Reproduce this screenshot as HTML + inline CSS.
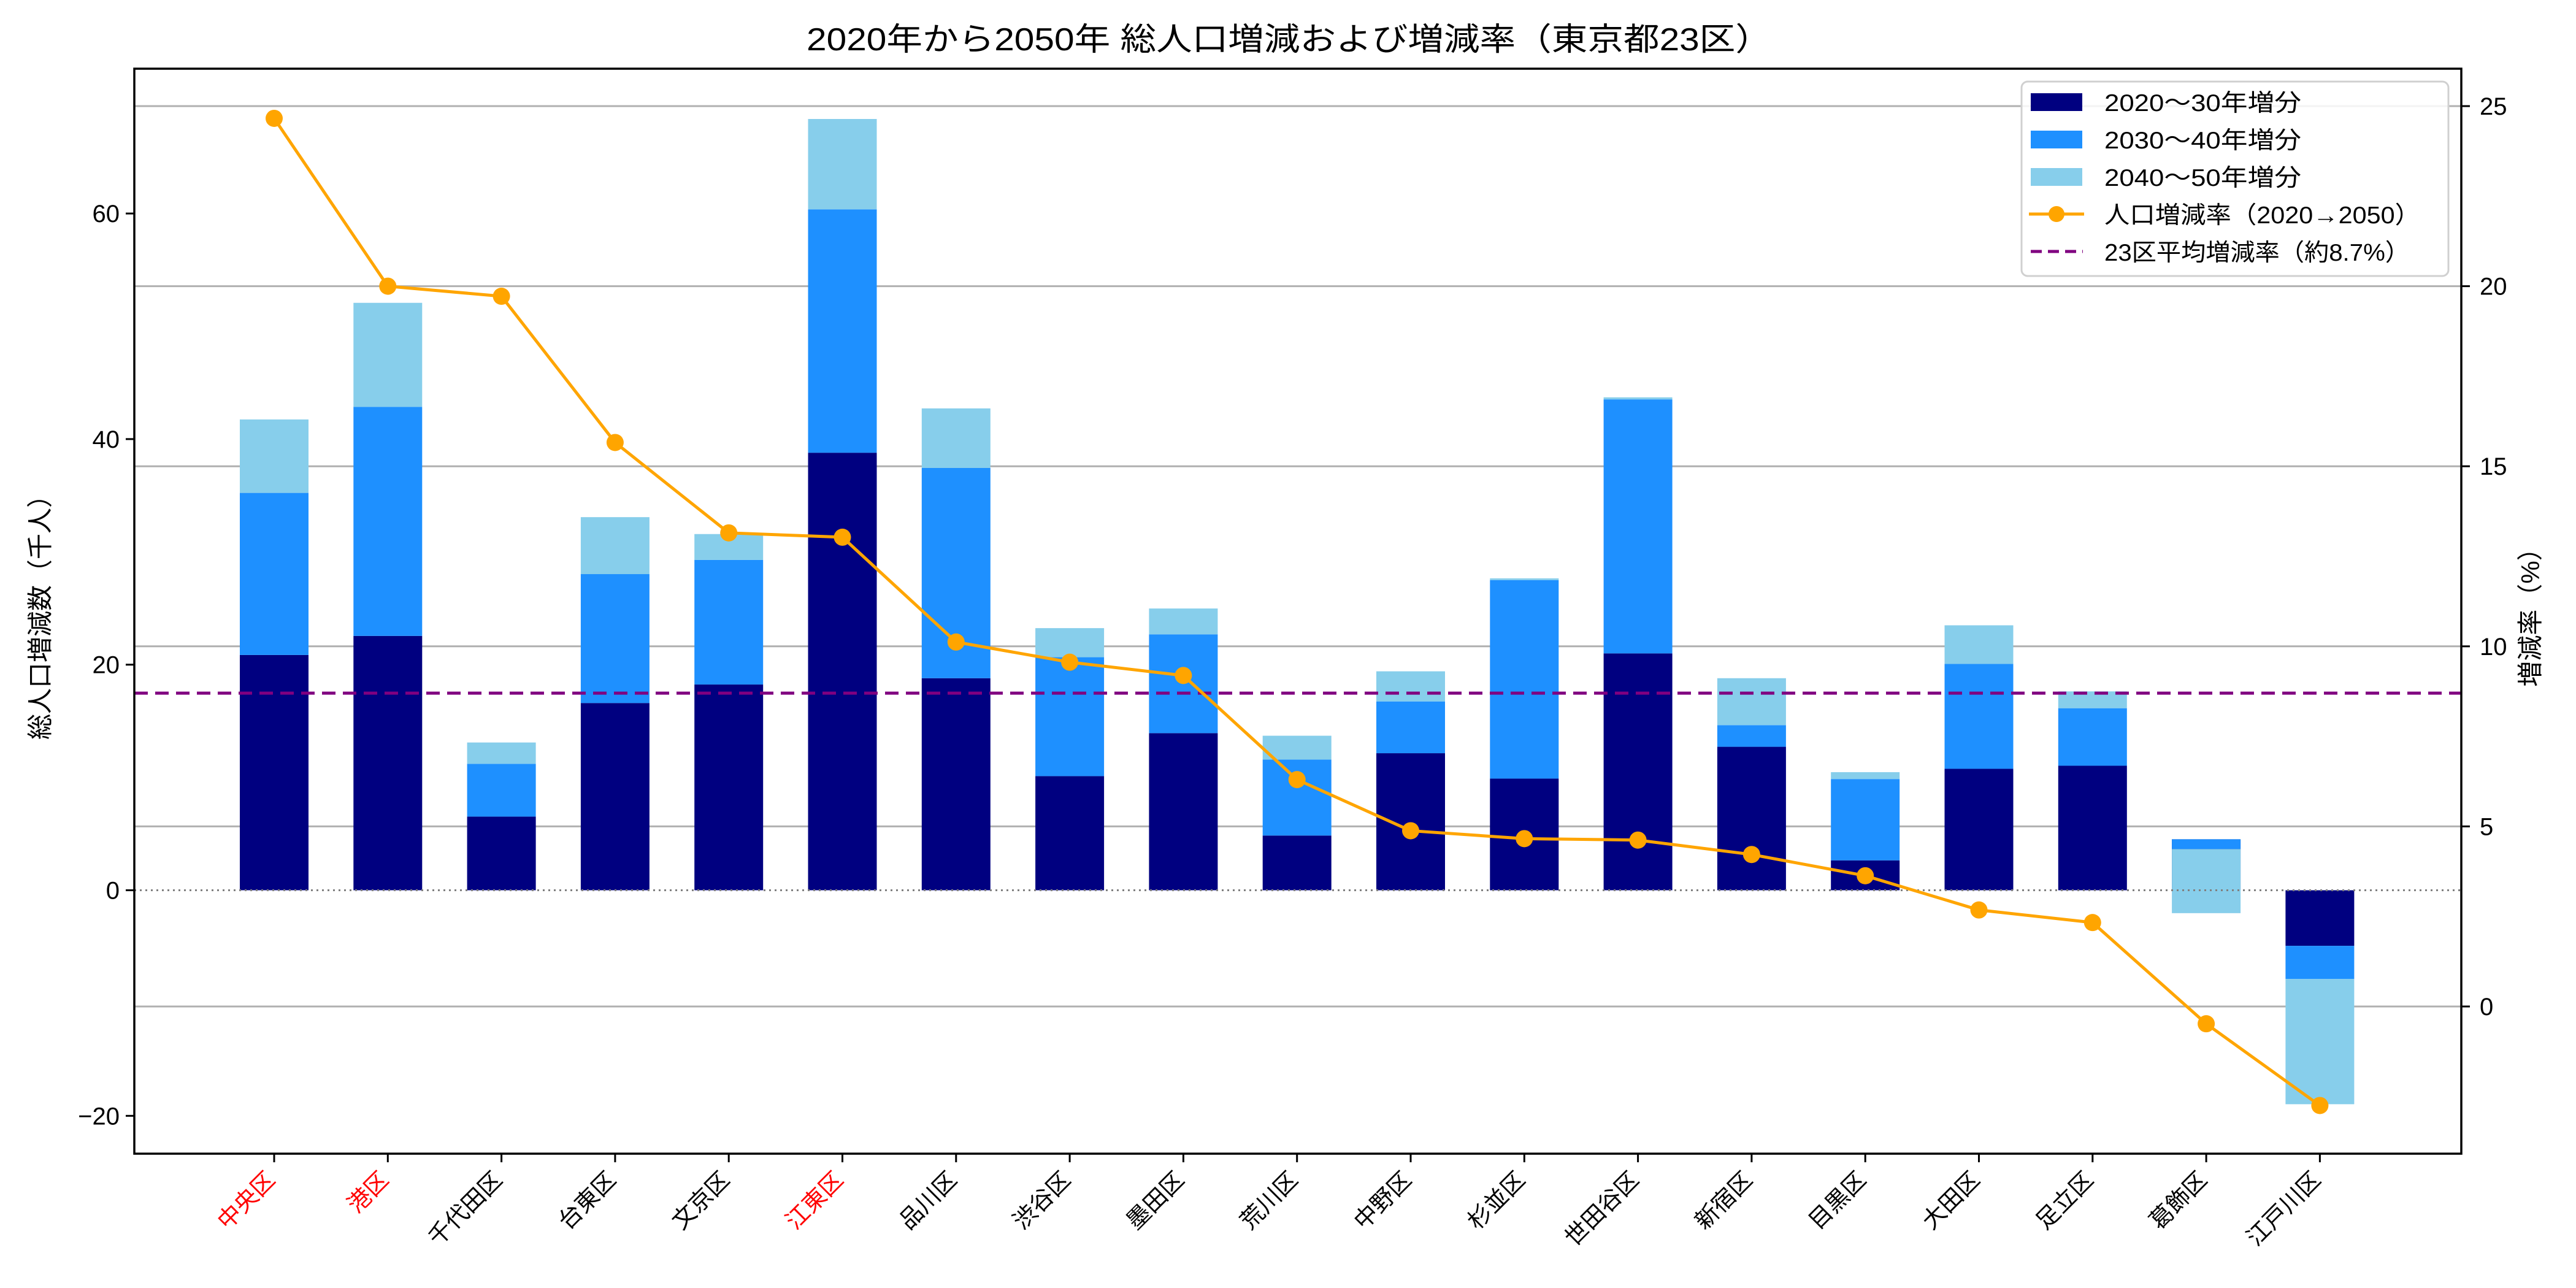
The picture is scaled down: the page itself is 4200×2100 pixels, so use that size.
<!DOCTYPE html>
<html><head><meta charset="utf-8">
<style>html,body{margin:0;padding:0;background:#fff}svg{display:block}text{font-family:"Liberation Sans","Noto Sans CJK JP",sans-serif}</style>
</head><body>
<svg id="chart" xmlns="http://www.w3.org/2000/svg" width="4200" height="2100" viewBox="0 0 4200 2100">
<rect width="4200" height="2100" fill="#fff"/>
<text x="1315" y="82" font-size="52" textLength="1573" lengthAdjust="spacingAndGlyphs">2020年から2050年 総人口増減および増減率（東京都23区）</text>
<g id="grid"></g><g id="bars"></g><g id="lines"></g><g id="axes"></g>
<g>
<rect x="3296" y="133" width="696" height="317" rx="10" fill="#fff" fill-opacity="0.85" stroke="#d0d0d0" stroke-width="3"/>
<rect x="3311" y="152" width="84" height="29" fill="#000080"/>
<text x="3431" y="181" font-size="39" textLength="321" lengthAdjust="spacingAndGlyphs">2020〜30年増分</text>
<rect x="3311" y="213" width="84" height="29" fill="#1e90ff"/>
<text x="3431" y="242" font-size="39" textLength="321" lengthAdjust="spacingAndGlyphs">2030〜40年増分</text>
<rect x="3311" y="274" width="84" height="29" fill="#87ceeb"/>
<text x="3431" y="303" font-size="39" textLength="321" lengthAdjust="spacingAndGlyphs">2040〜50年増分</text>
<line x1="3308" y1="349" x2="3398" y2="349" stroke="#ffa500" stroke-width="5"/>
<circle cx="3353" cy="349" r="13" fill="#ffa500"/>
<text x="3431" y="364" font-size="39" textLength="515" lengthAdjust="spacingAndGlyphs">人口増減率（2020→2050）</text>
<line x1="3311" y1="410" x2="3396" y2="410" stroke="#800080" stroke-width="5" stroke-dasharray="18,10"/>
<text x="3431" y="425" font-size="39" textLength="498" lengthAdjust="spacingAndGlyphs">23区平均増減率（約8.7%）</text>
</g>
</svg>
<script>
const categories=["中央区","港区","千代田区","台東区","文京区","江東区","品川区","渋谷区","墨田区","荒川区","中野区","杉並区","世田谷区","新宿区","目黒区","大田区","足立区","葛飾区","江戸川区"];
const redLabels=["中央区","港区","江東区"];
const inc2030=[20.86,22.55,6.53,16.6,18.24,38.79,18.8,10.12,13.93,4.85,12.15,9.9,21.0,12.72,2.65,10.77,11.04,4.52,-4.93];
const inc2040=[14.37,20.31,4.68,11.43,11.05,21.58,18.64,10.54,8.76,6.74,4.59,17.6,22.52,1.92,7.21,9.3,5.1,-0.87,-2.94];
const inc2050=[6.51,9.22,1.89,5.05,2.29,8.01,5.28,2.58,2.29,2.11,2.67,0.15,0.18,4.16,0.61,3.42,1.49,-5.68,-11.1];
const rate=[24.66,20.0,19.72,15.66,13.15,13.03,10.12,9.56,9.19,6.3,4.88,4.66,4.62,4.22,3.63,2.68,2.33,-0.48,-2.75];
const avgRate=[8.7];
const leftTicks=[-20,0,20,40,60];
const rightTicks=[0,5,10,15,20,25];

const NS="http://www.w3.org/2000/svg";
const L=219,R=4013,T=112,B=1881;
const x0=447,step=185.3,bw=112;
const xS=i=>x0+step*i;
const yL=v=>1451.5-v*18.39;
const yR=v=>1641-v*58.72;
function mk(p,tag,a){const e=document.createElementNS(NS,tag);for(const k in a)e.setAttribute(k,a[k]);p.appendChild(e);return e;}
const grid=document.getElementById('grid'),bars=document.getElementById('bars'),lines=document.getElementById('lines'),axes=document.getElementById('axes');

rightTicks.forEach(t=>{const g=mk(grid,'line',{x1:L,x2:R,y1:yR(t),y2:yR(t),stroke:'#b0b0b0','stroke-width':3});

});

const segColors=['#000080','#1e90ff','#87ceeb'];
categories.forEach((c,i)=>{
  const vals=[inc2030[i],inc2040[i],inc2050[i]];let base=0;
  vals.forEach((v,k)=>{
    const a=yL(base),b=yL(base+v);
    const r=mk(bars,'rect',{x:xS(i)-bw/2,y:Math.min(a,b),width:bw,height:Math.abs(a-b),fill:segColors[k]});
    
    
    base+=v;
  });
});

const zl=mk(lines,'line',{x1:L,x2:R,y1:yL(0),y2:yL(0),stroke:'#808080','stroke-width':3,'stroke-dasharray':'3,6'});


const av=mk(lines,'line',{x1:L,x2:R,y1:yR(avgRate[0]),y2:yR(avgRate[0]),stroke:'#800080','stroke-width':5,'stroke-dasharray':'22,12'});


const pl=mk(lines,'polyline',{points:rate.map((v,i)=>xS(i)+','+yR(v)).join(' '),fill:'none',stroke:'#ffa500','stroke-width':5});


rate.forEach((v,i)=>{const c=mk(lines,'circle',{cx:xS(i),cy:yR(v),r:14,fill:'#ffa500'});

});

const fr=mk(axes,'rect',{x:L,y:T,width:R-L,height:B-T,fill:'none',stroke:'#000','stroke-width':3.5});


leftTicks.forEach(t=>{const y=yL(t);mk(axes,'line',{x1:L-14,x2:L,y1:y,y2:y,stroke:'#000','stroke-width':3});
const tx=mk(axes,'text',{x:L-24,y:y+14,'font-size':40,'text-anchor':'end'});tx.textContent=t<0?'−'+Math.abs(t):t;

});
rightTicks.forEach(t=>{const y=yR(t);mk(axes,'line',{x1:R,x2:R+14,y1:y,y2:y,stroke:'#000','stroke-width':3});
const tx=mk(axes,'text',{x:R+30,y:y+14,'font-size':40});tx.textContent=t;

});
categories.forEach((c,i)=>{const x=xS(i);mk(axes,'line',{x1:x,x2:x,y1:B,y2:B+14,stroke:'#000','stroke-width':3});
const tx=mk(axes,'text',{x:x+4,y:1926,'font-size':38,'text-anchor':'end',fill:redLabels.includes(c)?'#ff0000':'#000',transform:`rotate(-45 ${x+4} 1926)`});tx.textContent=c;

});
const yl=mk(axes,'text',{x:80,y:996,'font-size':42,'text-anchor':'middle',transform:'rotate(-90 80 996)'});yl.textContent='総人口増減数（千人）';


const yr=mk(axes,'text',{x:4140,y:996,'font-size':42,'text-anchor':'middle',transform:'rotate(-90 4140 996)'});yr.textContent='増減率（%）';


</script>
</body></html>
